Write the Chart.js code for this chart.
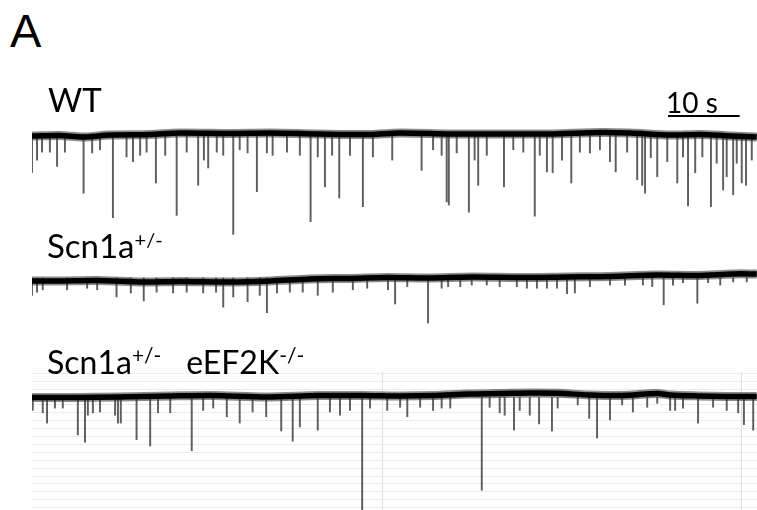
<!DOCTYPE html>
<html>
<head>
<meta charset="utf-8">
<script src="https://cdn.jsdelivr.net/npm/chart.js@4/dist/chart.umd.min.js"></script>
<style>
  html, body { margin: 0; padding: 0; background: #fff; }
  #fig { position: relative; width: 757px; height: 510px; overflow: hidden; background: #fff; }
  #fig canvas { position: absolute; left: 32px; }
  .lbl { position: absolute; font-family: Lato, "Open Sans", sans-serif; color: #000; line-height: 1; white-space: nowrap; z-index: 2; }
  .sup { font-size: 20px; position: relative; top: -11px; }
</style>
</head>
<body>
<div id="fig">
  <canvas id="wt" width="725" height="155" style="top:85px"></canvas>
  <canvas id="het" width="725" height="80" style="top:250px"></canvas>
  <canvas id="ko" width="725" height="138" style="top:372px"></canvas>

  <div class="lbl" style="left:10px;top:7px;font-family:'Liberation Sans',Arial,sans-serif;font-size:47px;">A</div>
  <div class="lbl" style="left:48px;top:83px;font-size:33px;">WT</div>
  <div class="lbl" style="left:47px;top:229px;font-size:33px;">Scn1a<span class="sup">+/-</span></div>
  <div class="lbl" style="left:47px;top:346px;font-size:32px;">Scn1a<span class="sup" style="font-size:21px">+/-</span><span style="margin-left:25px">eEF2K</span><span class="sup" style="font-size:21px">-/-</span></div>
  <div class="lbl" style="left:666px;top:88px;font-size:28px;">10 s</div>
</div>

<script>
// Recording window (s) and the 10 s time calibration bar
const timeWindow = [1, 102.23];
const scaleBarTimes = [89.8, 99.8];
const scaleBarLevel = 22.8; // pA, above the WT trace

// Background grid of the eEF2K recording
const gridTimes = [50, 100];                       // s
const gridLevels = [30, 20, 10, 0, -10, -20, -30, -40, -50, -60,
                    -70, -80, -90, -100, -110, -120, -130, -140]; // pA

// Holding-current drift of each recording: [time s, current pA]
const wtBaseline = [
  [1.0, -2.5], [4.9, -1.9], [8.2, -3.8], [11.9, -1.3], [17.5, -0.6], [21.6, 1.3],
  [28.6, 0.6], [34.2, 1.3], [41.2, 0.0], [48.2, -0.6], [52.4, 1.3], [59.4, 0.0],
  [66.3, 0.0], [73.3, 0.0], [80.3, 1.9], [84.5, 1.3], [90.1, -1.3], [94.3, -0.6],
  [98.5, -2.5], [102.2, -3.8]
];
const hetBaseline = [
  [1.0, -3.8], [4.9, -3.8], [10.0, -3.2], [16.6, -5.1], [21.6, -4.4], [28.6, -5.1],
  [34.2, -3.8], [39.8, -1.3], [45.4, -0.6], [50.6, 0.6], [56.3, 0.0], [62.4, 1.3],
  [69.1, 0.6], [75.7, 1.3], [81.7, 1.9], [88.3, 3.8], [93.9, 3.2], [98.9, 5.1],
  [102.2, 5.1]
];
const koBaseline = [
  [1.0, -0.6], [7.4, -0.6], [13.0, 0.0], [20.3, 1.3], [26.3, 1.9], [33.7, 0.0],
  [40.9, 1.9], [47.1, 1.9], [52.4, 1.3], [57.0, 1.9], [62.0, 3.8], [66.3, 4.4],
  [70.5, 5.2], [74.4, 4.8], [78.8, 2.5], [83.4, 1.9], [88.3, 4.4], [90.1, 2.5],
  [94.0, 1.3], [98.0, 0.6], [102.2, 0.6]
];

// Synaptic events: [time s, peak current pA]
const wtEvents = [
  [1.0, -49], [1.7, -33], [2.4, -23], [3.5, -23], [4.5, -41], [5.6, -23], [8.2, -75],
  [9.4, -24], [10.5, -20], [12.3, -106], [14.2, -29], [15.1, -35], [16.1, -27],
  [17.0, -23], [18.3, -62], [19.6, -27], [21.2, -103], [22.6, -23], [24.2, -65],
  [25.0, -33], [25.6, -43], [26.8, -23], [27.7, -27], [29.1, -127], [30.0, -20],
  [31.1, -24], [32.4, -73], [33.8, -24], [34.6, -27], [36.6, -23], [38.4, -27],
  [39.9, -111], [40.9, -29], [41.9, -67], [42.9, -27], [43.9, -81], [45.4, -27],
  [47.2, -92], [48.6, -29], [51.3, -33], [55.4, -46], [57.0, -20], [58.2, -27],
  [58.9, -86], [59.2, -90], [60.3, -24], [62.0, -99], [62.8, -33], [63.3, -65],
  [64.5, -27], [66.9, -67], [68.2, -20], [69.6, -23], [71.2, -104], [71.9, -27],
  [72.9, -48], [73.7, -49], [75.0, -33], [76.3, -62], [77.5, -23], [78.9, -24],
  [80.3, -20], [81.7, -35], [82.5, -48], [84.1, -23], [85.5, -58], [86.2, -65],
  [86.6, -75], [87.4, -30], [88.3, -54], [89.7, -35], [91.1, -62], [91.9, -29],
  [92.6, -91], [93.6, -49], [94.6, -29], [95.8, -92], [96.6, -37], [97.5, -71],
  [98.0, -54], [98.9, -77], [99.4, -37], [100.1, -62], [100.7, -65], [101.5, -33]
];
const hetEvents = [
  [1.0, -22], [1.7, -18], [2.5, -15], [5.9, -15], [8.7, -13], [10.1, -15], [12.8, -24],
  [14.8, -19], [16.6, -29], [18.4, -18], [20.7, -19], [22.6, -18], [24.9, -19],
  [26.7, -18], [27.7, -37], [29.1, -24], [31.1, -30], [32.8, -22], [33.8, -44],
  [35.2, -19], [37.0, -18], [38.8, -18], [40.9, -22], [43.0, -18], [45.8, -15],
  [47.8, -13], [50.7, -15], [51.7, -33], [53.4, -11], [56.3, -57], [58.2, -13],
  [59.1, -11], [60.8, -11], [62.4, -9], [64.5, -9], [66.3, -11], [68.7, -11],
  [70.1, -13], [71.5, -13], [72.9, -13], [74.3, -13], [75.7, -20], [76.8, -19],
  [78.9, -11], [81.7, -9], [83.8, -9], [86.3, -9], [87.6, -11], [89.2, -34],
  [90.5, -9], [91.9, -6], [93.9, -32], [95.4, -6], [97.1, -9], [98.9, -5], [100.8, -5]
];
const koEvents = [
  [1.1, -17], [2.5, -20], [3.1, -33], [4.2, -14], [5.3, -14], [7.4, -48], [8.4, -57],
  [8.8, -23], [9.5, -20], [10.5, -19], [12.6, -23], [13.0, -33], [13.4, -33],
  [15.6, -54], [17.5, -62], [18.6, -20], [20.3, -20], [23.3, -68], [24.9, -17],
  [26.3, -14], [28.2, -25], [30.0, -33], [31.8, -19], [33.7, -25], [35.8, -43],
  [37.4, -56], [38.4, -38], [40.9, -42], [42.6, -19], [44.0, -23], [45.4, -17],
  [47.1, -150], [48.2, -14], [50.6, -17], [52.4, -13], [53.4, -25], [55.2, -13],
  [57.0, -17], [58.2, -14], [59.4, -14], [63.8, -118], [64.9, -13], [66.3, -20],
  [67.0, -23], [68.3, -42], [69.1, -17], [70.5, -23], [71.8, -34], [73.6, -43],
  [74.4, -14], [77.2, -10], [78.8, -27], [79.9, -52], [81.7, -29], [83.4, -10],
  [84.9, -19], [86.9, -13], [88.3, -8], [90.1, -17], [90.8, -17], [91.9, -14],
  [94.0, -33], [96.1, -13], [98.0, -17], [99.6, -20], [100.4, -35], [101.7, -42]
];

// Current ranges (pA) shown in each panel
const wtRange = [-134.2, 62.0];
const hetRange = [-65.9, 35.4];
const koRange = [-143.0, 31.65];

const toXY = (pairs) => pairs.map(([t, v]) => ({ x: t, y: v }));
const toBars = (pairs) => pairs.map(([t, v]) => ({ x: t, y: [v, 0] }));
const fixedTicks = (values) => (scale) => { scale.ticks = values.map(v => ({ value: v })); };

function tracePanel(canvasId, baseline, events, range, opts) {
  opts = opts || {};
  const datasets = [
    {
      type: 'line', data: toXY(baseline), order: 3,
      borderColor: 'rgba(0,0,0,0.45)', borderWidth: 9,
      pointRadius: 0, tension: 0.3
    },
    {
      type: 'bar', data: toBars(events), order: 2,
      backgroundColor: 'rgba(55,55,55,0.80)', borderWidth: 0,
      barThickness: 1.3, grouped: false
    },
    {
      type: 'line', data: toXY(baseline), order: 1,
      borderColor: '#000', borderWidth: 5.5,
      pointRadius: 0, tension: 0.3
    }
  ];
  if (opts.scaleBar) {
    datasets.push({
      type: 'line', order: 0,
      data: opts.scaleBar.map(t => ({ x: t, y: scaleBarLevel })),
      borderColor: '#000', borderWidth: 2, pointRadius: 0
    });
  }
  const grid = !!opts.grid;
  return new Chart(document.getElementById(canvasId), {
    type: 'line',
    data: { datasets },
    options: {
      responsive: false,
      animation: false,
      events: [],
      layout: { padding: 0 },
      plugins: { legend: { display: false }, tooltip: { enabled: false } },
      scales: {
        x: {
          type: 'linear', min: timeWindow[0], max: timeWindow[1], offset: false,
          display: grid,
          afterBuildTicks: fixedTicks(gridTimes),
          border: { display: false },
          grid: { color: '#e0e0e0', lineWidth: 1, drawTicks: false, offset: false },
          ticks: { display: false }
        },
        y: {
          type: 'linear', min: range[0], max: range[1],
          display: grid,
          afterBuildTicks: fixedTicks(gridLevels),
          border: { display: false },
          grid: { color: '#ececec', lineWidth: 1, drawTicks: false },
          ticks: { display: false }
        }
      }
    }
  });
}

tracePanel('wt', wtBaseline, wtEvents, wtRange, { scaleBar: scaleBarTimes });
tracePanel('het', hetBaseline, hetEvents, hetRange);
tracePanel('ko', koBaseline, koEvents, koRange, { grid: true });
</script>
</body>
</html>
